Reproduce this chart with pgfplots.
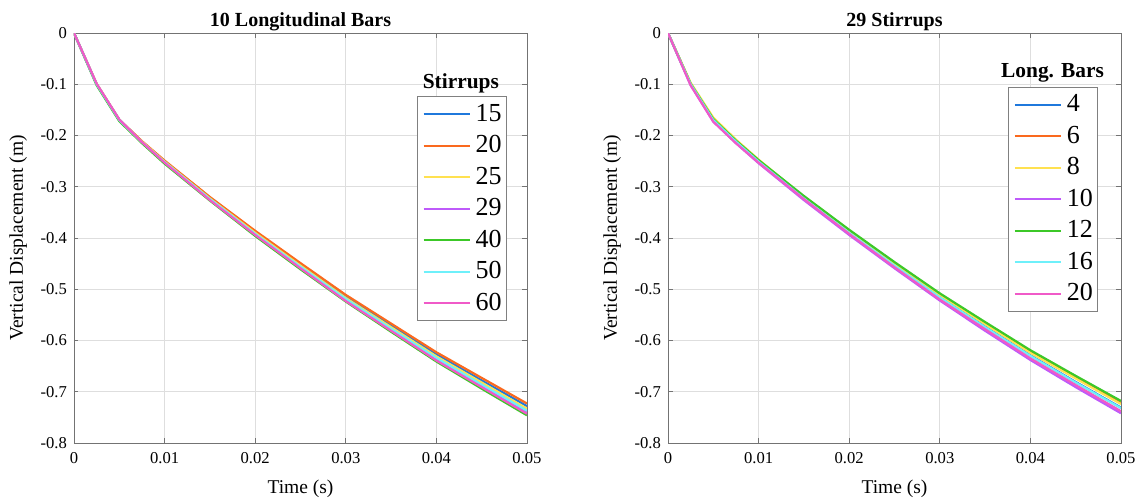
\documentclass[border=0pt]{standalone}
\usepackage{pgfplots}
\pgfplotsset{compat=1.18}
\usepackage{pgfplotstable}
\usepackage{fontspec}
\setmainfont{Liberation Serif}

\definecolor{cblue}{RGB}{31,120,220}
\definecolor{corange}{RGB}{250,105,30}
\definecolor{cyellow}{RGB}{255,225,80}
\definecolor{cpurple}{RGB}{190,90,250}
\definecolor{cgreen}{RGB}{60,200,40}
\definecolor{ccyan}{RGB}{110,240,250}
\definecolor{cpink}{RGB}{240,90,200}

% t  15  20  25  29  40  50  60 (stirrups, 10 longitudinal bars)
\pgfplotstableread{
t      a      b      c      d      e      f      g
0      0      0      0      0      0      0      0
0.0025 -0.100 -0.099 -0.100 -0.100 -0.102 -0.100 -0.099
0.005  -0.169 -0.169 -0.170 -0.170 -0.172 -0.170 -0.169
0.0075 -0.212 -0.211 -0.212 -0.213 -0.215 -0.213 -0.213
0.01   -0.250 -0.249 -0.251 -0.253 -0.255 -0.252 -0.253
0.015  -0.321 -0.320 -0.323 -0.325 -0.327 -0.324 -0.326
0.02   -0.388 -0.386 -0.390 -0.393 -0.396 -0.392 -0.394
0.025  -0.452 -0.449 -0.454 -0.458 -0.461 -0.456 -0.459
0.03   -0.514 -0.511 -0.517 -0.521 -0.524 -0.519 -0.523
0.035  -0.571 -0.567 -0.574 -0.579 -0.583 -0.577 -0.581
0.04   -0.627 -0.623 -0.631 -0.636 -0.641 -0.634 -0.639
0.045  -0.678 -0.673 -0.682 -0.689 -0.694 -0.686 -0.691
0.05   -0.728 -0.723 -0.733 -0.740 -0.746 -0.737 -0.743
}\lefttab

% t  4  6  8  10  12  16  20 (long. bars, 29 stirrups)
\pgfplotstableread{
t      a      b      c      d      e      f      g
0      0      0      0      0      0      0      0
0.0025 -0.100 -0.099 -0.097 -0.102 -0.099 -0.100 -0.102
0.005  -0.169 -0.169 -0.165 -0.173 -0.168 -0.170 -0.173
0.0075 -0.212 -0.211 -0.208 -0.215 -0.210 -0.212 -0.215
0.01   -0.251 -0.249 -0.247 -0.254 -0.248 -0.251 -0.253
0.015  -0.322 -0.320 -0.320 -0.326 -0.318 -0.323 -0.324
0.02   -0.390 -0.386 -0.387 -0.394 -0.384 -0.390 -0.392
0.025  -0.453 -0.449 -0.450 -0.459 -0.447 -0.454 -0.457
0.03   -0.515 -0.510 -0.511 -0.522 -0.508 -0.516 -0.520
0.035  -0.573 -0.567 -0.568 -0.581 -0.564 -0.574 -0.578
0.04   -0.629 -0.622 -0.624 -0.638 -0.619 -0.630 -0.635
0.045  -0.681 -0.673 -0.674 -0.691 -0.669 -0.682 -0.687
0.05   -0.731 -0.722 -0.724 -0.742 -0.718 -0.732 -0.738
}\righttab

\pgfplotsset{
  myax/.style={
    width=226.5pt, height=205pt, scale only axis,
    xmin=0, xmax=0.05, ymin=-0.8, ymax=0,
    xtick={0,0.01,0.02,0.03,0.04,0.05},
    ytick={-0.8,-0.7,-0.6,-0.5,-0.4,-0.3,-0.2,-0.1,0},
    scaled x ticks=false, scaled y ticks=false,
    xticklabel style={/pgf/number format/fixed,/pgf/number format/precision=2, yshift=-1pt},
    yticklabel style={/pgf/number format/fixed,/pgf/number format/precision=1},
    /pgf/number format/assume math mode=true,
    tick label style={font=\fontsize{8.3}{10}\selectfont},
    label style={font=\fontsize{9.75}{12}\selectfont},
    xlabel style={yshift=-1.5pt},
    title style={font=\bfseries\fontsize{10}{12}\selectfont,
                 at={(0.5,1)}, anchor=base, yshift=-2.6pt},
    grid=major, grid style={black!13, line width=0.4pt},
    axis line style={black!55, line width=0.45pt},
    tick style={black!55, line width=0.45pt},
    tick align=inside, major tick length=2.25pt,
    xlabel={Time (s)}, ylabel={Vertical Displacement (m)},
    every axis plot/.append style={line width=1.1pt, no marks},
    legend cell align=left,
    legend image code/.code={\draw[##1] (0pt,0pt) -- (23pt,0pt);},
    legend style={
      draw=black!50, line width=0.5pt, fill=white,
      font=\fontsize{13}{15.75}\selectfont,
      inner xsep=2.5pt, inner ysep=2.25pt,
      nodes={inner sep=0pt, text height=10pt, text depth=3pt},
      row sep=2.75pt,
      /tikz/every odd column/.append style={column sep=2.5pt},
    },
  }
}

\begin{document}
\begin{tikzpicture}
\path[use as bounding box] (0,0) rectangle (568.5pt,251pt);

\begin{axis}[myax, at={(37pt,29.5pt)}, anchor=south west,
  title={10 Longitudinal Bars},
  legend style={at={(0.757,0.846)}, anchor=north west}]
\addplot[cblue]   table[x=t,y=a] {\lefttab};
\addplot[corange] table[x=t,y=b] {\lefttab};
\addplot[cyellow] table[x=t,y=c] {\lefttab};
\addplot[cpurple] table[x=t,y=d] {\lefttab};
\addplot[cgreen]  table[x=t,y=e] {\lefttab};
\addplot[ccyan]   table[x=t,y=f] {\lefttab};
\addplot[cpink]   table[x=t,y=g] {\lefttab};
\legend{15,20,25,29,40,50,60}
\node[font=\bfseries\fontsize{10.7}{12}\selectfont] at (rel axis cs:0.854,0.878) {Stirrups};
\end{axis}

\begin{axis}[myax, at={(334pt,29.5pt)}, anchor=south west,
  title={29 Stirrups},
  legend style={at={(0.751,0.869)}, anchor=north west}]
\addplot[cblue]   table[x=t,y=a] {\righttab};
\addplot[corange] table[x=t,y=b] {\righttab};
\addplot[cyellow] table[x=t,y=c] {\righttab};
\addplot[cpurple] table[x=t,y=d] {\righttab};
\addplot[cgreen]  table[x=t,y=e] {\righttab};
\addplot[ccyan]   table[x=t,y=f] {\righttab};
\addplot[cpink]   table[x=t,y=g] {\righttab};
\legend{4,6,8,10,12,16,20}
\node[font=\bfseries\fontsize{10.7}{12}\selectfont] at (rel axis cs:0.849,0.902) {Long. Bars};
\end{axis}
\end{tikzpicture}
\end{document}
